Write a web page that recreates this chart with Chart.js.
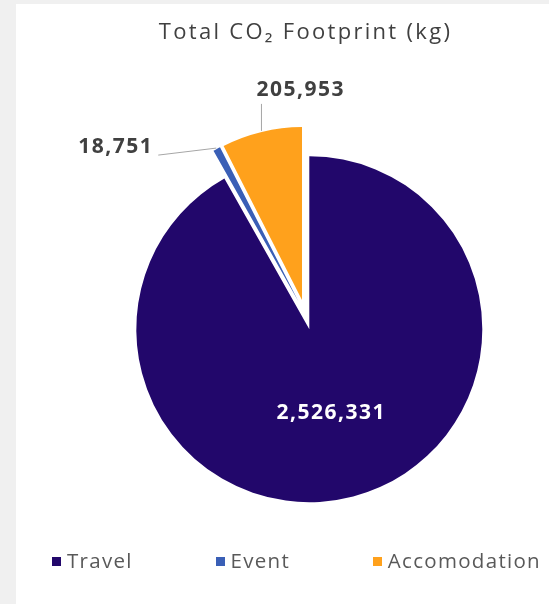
<!DOCTYPE html>
<html>
<head>
<meta charset="utf-8">
<script src="https://cdn.jsdelivr.net/npm/chart.js@4/dist/chart.umd.min.js"></script>
<style>
  body { margin: 0; background: #f0f0f0; }
  #panel { position: absolute; left: 16px; top: 4px; width: 533px; height: 600px; background: #fff; }
  #legend { position: absolute; left: 36px; right: 8px; top: 542px; height: 28px;
    display: flex; justify-content: space-between; align-items: center;
    font-family: "Open Sans", sans-serif; font-size: 20.5px; letter-spacing: 1.3px; color: #595959; }
  #legend span.box { display: inline-block; width: 9px; height: 9px; margin-right: 6px; vertical-align: 2px; }
</style>
</head>
<body>
<div id="panel">
  <canvas id="myChart"></canvas>
  <div id="legend"></div>
</div>
<script>
const categories = ["Travel", "Event", "Accomodation"];
const footprint = [2526331, 18751, 205953];
const sliceColors = ["#22076b", "#3a5fb6", "#ffa11c"];

// pull every slice out from the centre, like an exploded Excel pie
const explodePlugin = {
  id: "explode",
  afterDatasetUpdate(chart, args, opts) {
    args.meta.data.forEach((arc) => {
      const mid = (arc.startAngle + arc.endAngle) / 2;
      arc.x += Math.cos(mid) * opts.distance;
      arc.y += Math.sin(mid) * opts.distance;
    });
  },
};

// the reference text is loosely spaced, so widen the title a little
const spacing = {
  id: "spacing",
  beforeDraw(chart) {
    chart.ctx.letterSpacing = "2.3px";
  },
  beforeDatasetsDraw(chart) {
    chart.ctx.letterSpacing = "0px";
  },
};

// value labels: inside for big slices, with a leader line for the small ones
const valueLabels = {
  id: "valueLabels",
  afterDatasetsDraw(chart, args, opts) {
    const ctx = chart.ctx;
    chart.getDatasetMeta(0).data.forEach((arc, i) => {
      const text = footprint[i].toLocaleString("en-US");
      const c = opts.callouts[i];
      ctx.save();
      ctx.font = "bold 21px 'Open Sans', sans-serif";
      ctx.letterSpacing = "1.5px";
      ctx.textBaseline = "middle";
      if (!c) {
        const p = arc.tooltipPosition();
        ctx.fillStyle = "#ffffff";
        ctx.textAlign = "center";
        ctx.fillText(text, p.x, p.y);
      } else {
        const mid = (arc.startAngle + arc.endAngle) / 2;
        const r = arc.outerRadius + 1;
        const x0 = arc.x + Math.cos(mid) * r;
        const y0 = arc.y + Math.sin(mid) * r;
        const x1 = x0 + c.dx;
        const y1 = y0 + c.dy;
        ctx.strokeStyle = "#a6a6a6";
        ctx.lineWidth = 1;
        ctx.beginPath();
        ctx.moveTo(x0, y0);
        ctx.lineTo(x1, y1);
        ctx.stroke();
        ctx.fillStyle = "#404040";
        ctx.textAlign = c.align;
        ctx.fillText(text, x1 + c.tx, y1 + c.ty);
      }
      ctx.restore();
    });
  },
};

const ctx = document.getElementById("myChart").getContext("2d");
new Chart(ctx, {
  type: "pie",
  data: {
    labels: categories,
    datasets: [
      {
        data: footprint,
        backgroundColor: sliceColors,
        borderWidth: 0,
      },
    ],
  },
  options: {
    responsive: true,
    maintainAspectRatio: false,
    animation: false,
    events: [],
    radius: 173,
    layout: {
      padding: { top: 0, left: 46, right: 0, bottom: 31 },
    },
    plugins: {
      legend: { display: false },
      tooltip: { enabled: false },
      title: {
        display: true,
        text: "Total CO\u2082 Footprint (kg)",
        color: "#404040",
        font: { family: "'Open Sans', sans-serif", size: 22, weight: "normal", lineHeight: 1.2 },
        padding: { top: 16, bottom: 10 },
      },
      explode: { distance: 15 },
      valueLabels: {
        callouts: [
          null,
          { dx: -58, dy: 7, tx: -5, ty: -8, align: "right" },
          { dx: 0, dy: -27, tx: -5, ty: -14, align: "left" },
        ],
      },
    },
  },
  plugins: [explodePlugin, spacing, valueLabels],
});

// legend drawn as html so the items can spread across the width
const legend = document.getElementById("legend");
categories.forEach((name, i) => {
  const item = document.createElement("div");
  item.innerHTML = '<span class="box" style="background:' + sliceColors[i] + '"></span>' + name;
  legend.appendChild(item);
});
</script>
</body>
</html>
